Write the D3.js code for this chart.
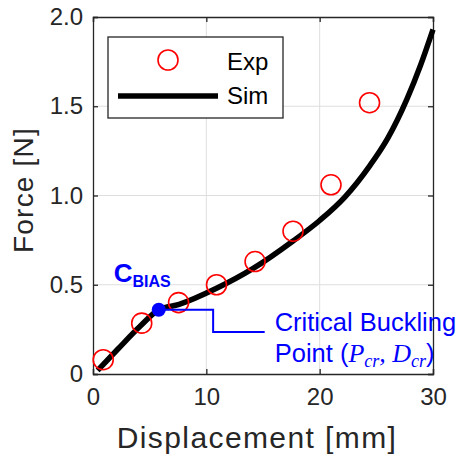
<!DOCTYPE html>
<html>
<head>
<meta charset="utf-8">
<script src="https://cdn.jsdelivr.net/npm/d3@7"></script>
<style>
  body { margin: 0; background: #fff; }
  text { font-family: "Liberation Sans", Arial, sans-serif; }
</style>
</head>
<body>
<div id="plot"></div>
<script>
// experimental points
var expX = [0.9, 4.3, 7.55, 10.9, 14.3, 17.65, 21.0, 24.4];
var expY = [0.08, 0.285, 0.40, 0.50, 0.63, 0.80, 1.06, 1.52];

// simulated curve
var simX = [0.4, 2.2, 4.2, 5.8, 7.6, 10.9, 14.1, 17.65, 20, 22.2, 24.4, 26, 27.7, 28.9, 30];
var simY = [0.02, 0.14, 0.27, 0.36, 0.39, 0.48, 0.59, 0.745, 0.86, 0.99, 1.165, 1.32, 1.54, 1.73, 1.93];

// critical buckling point + leader line
var critPoint = [5.8, 0.36];
var leaderX = [5.8, 10.6, 10.6, 15.15];
var leaderY = [0.36, 0.36, 0.235, 0.235];

var xTicks = [0, 10, 20, 30];
var yTicks = [0, 0.5, 1.0, 1.5, 2.0];
var yTickLabels = ["0", "0.5", "1.0", "1.5", "2.0"];

var W = 461, H = 459;
var margin = {top: 17, right: 28, bottom: 85, left: 93};
var width = W - margin.left - margin.right,
    height = H - margin.top - margin.bottom;

var axisColor = "#262626";

var svg = d3.select("#plot")
  .append("svg")
    .attr("width", W)
    .attr("height", H);

var g = svg.append("g")
    .attr("transform", "translate(" + margin.left + "," + margin.top + ")");

var x = d3.scaleLinear().domain([0, 30]).range([0, width]);
var y = d3.scaleLinear().domain([0, 2]).range([height, 0]);

// grid
g.append("g").selectAll("line")
  .data(xTicks.slice(1, -1))
  .enter().append("line")
    .attr("x1", d => x(d)).attr("x2", d => x(d))
    .attr("y1", 0).attr("y2", height)
    .attr("stroke", "#dedede").attr("stroke-width", 1);
g.append("g").selectAll("line")
  .data(yTicks.slice(1, -1))
  .enter().append("line")
    .attr("y1", d => y(d)).attr("y2", d => y(d))
    .attr("x1", 0).attr("x2", width)
    .attr("stroke", "#dedede").attr("stroke-width", 1);

// axes (ticks inward, box)
var xAxis = g.append("g")
  .attr("transform", "translate(0," + height + ")")
  .call(d3.axisBottom(x).tickValues(xTicks).tickSize(-5).tickPadding(14).tickFormat(d3.format("d")));
var yAxis = g.append("g")
  .call(d3.axisLeft(y).tickValues(yTicks).tickSize(-5).tickPadding(10).tickFormat((d, i) => yTickLabels[i]));
var xTop = g.append("g")
  .call(d3.axisTop(x).tickValues(xTicks).tickSize(-5).tickFormat(""));
var yRight = g.append("g")
  .attr("transform", "translate(" + width + ",0)")
  .call(d3.axisRight(y).tickValues(yTicks).tickSize(-5).tickFormat(""));

[xAxis, yAxis, xTop, yRight].forEach(a => {
  a.select(".domain").attr("stroke", axisColor).attr("stroke-width", 1.3);
  a.selectAll(".tick line").attr("stroke", axisColor).attr("stroke-width", 1.3);
  a.selectAll(".tick text")
    .attr("fill", axisColor)
    .style("font-size", "24px")
    .style("font-family", "'Liberation Sans', Arial, sans-serif");
});
xAxis.selectAll(".tick text").attr("dy", "0.71em");

// sim curve
var simData = simX.map((d, i) => [d, simY[i]]);
var line = d3.line()
  .x(d => x(d[0]))
  .y(d => y(d[1]))
  .curve(d3.curveMonotoneX);

g.append("path")
  .datum(simData)
  .attr("d", line)
  .attr("fill", "none")
  .attr("stroke", "#000")
  .attr("stroke-width", 5.5);

// exp circles
g.selectAll("circle.exp")
  .data(expX.map((d, i) => [d, expY[i]]))
  .enter().append("circle")
    .attr("class", "exp")
    .attr("cx", d => x(d[0]))
    .attr("cy", d => y(d[1]))
    .attr("r", 10)
    .attr("fill", "none")
    .attr("stroke", "#ff0000")
    .attr("stroke-width", 1.6);

// leader line
var leader = leaderX.map((d, i) => [d, leaderY[i]]);
g.append("path")
  .datum(leader)
  .attr("d", d3.line().x(d => x(d[0])).y(d => y(d[1])))
  .attr("fill", "none")
  .attr("stroke", "#0000ff")
  .attr("stroke-width", 2);

g.append("circle")
  .attr("cx", x(critPoint[0]))
  .attr("cy", y(critPoint[1]))
  .attr("r", 7)
  .attr("fill", "#0000ff");

// C_BIAS label
var cb = g.append("text")
  .attr("x", x(critPoint[0]) - 45)
  .attr("y", y(critPoint[1]) - 28)
  .attr("fill", "#0000ff")
  .style("font-weight", "bold")
  .style("font-size", "26px");
cb.append("tspan").text("C");
cb.append("tspan").attr("dy", 5).style("font-size", "16px").text("BIAS");

// critical buckling text
var tx = x(leaderX[3]) + 10;
g.append("text")
  .attr("x", tx)
  .attr("y", y(leaderY[3]) - 1)
  .attr("fill", "#0000ff")
  .style("font-size", "25.5px")
  .text("Critical Buckling");

var t2 = g.append("text")
  .attr("x", tx)
  .attr("y", y(leaderY[3]) + 30)
  .attr("fill", "#0000ff")
  .style("font-size", "25.5px");
t2.append("tspan").text("Point (");
var mathStyle = s => s.style("font-family", "'Liberation Serif', 'DejaVu Serif', serif").style("font-style", "italic");
t2.append("tspan").call(mathStyle).style("font-size", "26px").text("P");
t2.append("tspan").call(mathStyle).attr("dy", 5).style("font-size", "18px").text("cr");
t2.append("tspan").call(mathStyle).attr("dy", -5).style("font-size", "26px").text(", D");
t2.append("tspan").call(mathStyle).attr("dy", 5).style("font-size", "18px").text("cr");
t2.append("tspan").attr("dy", -5).text(")");

// legend
var lg = svg.append("g").attr("transform", "translate(108,37)");
lg.append("rect")
  .attr("width", 175).attr("height", 81)
  .attr("fill", "#fff")
  .attr("stroke", axisColor)
  .attr("stroke-width", 1.3);
lg.append("circle")
  .attr("cx", 60).attr("cy", 23).attr("r", 10)
  .attr("fill", "none").attr("stroke", "#ff0000").attr("stroke-width", 1.6);
lg.append("line")
  .attr("x1", 10).attr("x2", 110).attr("y1", 59).attr("y2", 59)
  .attr("stroke", "#000").attr("stroke-width", 5.5);
lg.append("text").attr("x", 119).attr("y", 33).attr("fill", "#000").style("font-size", "24px").text("Exp");
lg.append("text").attr("x", 119).attr("y", 67).attr("fill", "#000").style("font-size", "24px").text("Sim");

// axis labels
svg.append("text")
  .attr("x", margin.left + width / 2 - 6)
  .attr("y", 448)
  .attr("text-anchor", "middle")
  .attr("fill", axisColor)
  .style("font-size", "30px")
  .style("letter-spacing", "1.4px")
  .text("Displacement [mm]");

svg.append("text")
  .attr("transform", "translate(33,190) rotate(-90)")
  .attr("text-anchor", "middle")
  .attr("fill", axisColor)
  .style("font-size", "28px")
  .style("letter-spacing", "1.2px")
  .text("Force [N]");
</script>
</body>
</html>
